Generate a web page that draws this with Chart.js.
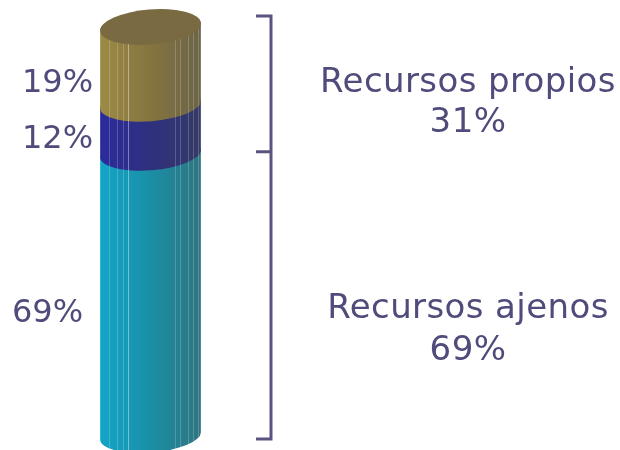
<!DOCTYPE html>
<html lang="es">
<head>
<meta charset="utf-8">
<title>Recursos</title>
<script src="https://cdn.jsdelivr.net/npm/chart.js@4"></script>
<style>
    html, body { margin: 0; padding: 0; background: #fff; }
    canvas { display: block; }
</style>
</head>
<body>
<canvas id="chart" width="620" height="450"></canvas>
<script>
// values, bottom to top
const categories = ['Pasivo'];
const segmentNames = ['Ajenos', 'Propios B', 'Propios A'];
const segmentValues = [69, 12, 19];
const segmentLabels = ['69%', '12%', '19%'];
const groupLabels = [['Recursos ajenos', '69%'], ['Recursos propios', '31%']];
const bracketStops = [0, 69, 100];

const segmentColors = [
    ['#12a6c8', '#1a8fa6', '#2f7480'],
    ['#2b2b9c', '#30307f', '#343a66'],
    ['#9c8b45', '#85743f', '#6b6448']
];
const topColor = '#7a6a42';
const textColor = '#4f4b7a';
const bracketColor = '#5a5580';
const streaks = [0.09, 0.17, 0.23, 0.28, 0.74, 0.79, 0.87, 0.92, 0.97];

// the ends of the cylinder are tilted a little
const radiusY = 16.5;
const tilt = -0.08;

function cylinderPath(ctx, cx, rx, top, base) {
    ctx.beginPath();
    ctx.ellipse(cx, top, rx, radiusY, tilt, Math.PI, Math.PI * 2, false);
    ctx.ellipse(cx, base, rx, radiusY, tilt, 0, Math.PI, false);
    ctx.closePath();
}

function drawSegment(ctx, bar, colors) {
    const rx = bar.width / 2;
    const left = bar.x - rx;
    const gradient = ctx.createLinearGradient(left, 0, left + bar.width, 0);
    gradient.addColorStop(0, colors[0]);
    gradient.addColorStop(0.5, colors[1]);
    gradient.addColorStop(1, colors[2]);

    ctx.save();
    cylinderPath(ctx, bar.x, rx, bar.y, bar.base);
    ctx.fillStyle = gradient;
    ctx.fill();
    ctx.clip();
    ctx.lineWidth = 1;
    streaks.forEach((s, i) => {
        const x = Math.round(left + s * bar.width) + 0.5;
        ctx.strokeStyle = i === 3 ? 'rgba(255,255,255,0.4)' : 'rgba(255,255,255,0.2)';
        ctx.beginPath();
        ctx.moveTo(x, bar.y - radiusY - 5);
        ctx.lineTo(x, bar.base + radiusY + 5);
        ctx.stroke();
    });
    ctx.restore();
}

const cylinderPlugin = {
    id: 'cylinder',
    // the segments overlap downwards, so they are all painted together below
    beforeDatasetDraw() {
        return false;
    },
    afterDatasetsDraw(chart) {
        const ctx = chart.ctx;
        const yScale = chart.scales.y;
        const bars = chart.data.datasets.map((d, i) => chart.getDatasetMeta(i).data[0]);

        bars.forEach((bar, i) => drawSegment(ctx, bar, segmentColors[i]));

        // top face
        const last = bars[bars.length - 1];
        ctx.beginPath();
        ctx.ellipse(last.x, last.y, last.width / 2, radiusY + 1, tilt, 0, Math.PI * 2);
        ctx.fillStyle = topColor;
        ctx.fill();

        // bracket
        const yLow = yScale.getPixelForValue(bracketStops[0]) + 3;
        const yMid = yScale.getPixelForValue(bracketStops[1]) - 2;
        const yHigh = yScale.getPixelForValue(bracketStops[2]) - 11;
        ctx.strokeStyle = bracketColor;
        ctx.lineWidth = 3;
        ctx.beginPath();
        ctx.moveTo(256, yHigh);
        ctx.lineTo(271, yHigh);
        ctx.lineTo(271, yLow);
        ctx.lineTo(256, yLow);
        ctx.moveTo(256, yMid);
        ctx.lineTo(271, yMid);
        ctx.stroke();

        // labels
        ctx.fillStyle = textColor;
        ctx.textBaseline = 'middle';
        ctx.font = '32px "DejaVu Sans"';
        ctx.textAlign = 'left';
        ctx.fillText(segmentLabels[2], 22, 84);
        ctx.fillText(segmentLabels[1], 22, 140);
        ctx.fillText(segmentLabels[0], 12, 314);
        ctx.font = '34px "DejaVu Sans"';
        ctx.letterSpacing = '0.4px';
        ctx.textAlign = 'center';
        ctx.fillText(groupLabels[1][0], 468, 83);
        ctx.fillText(groupLabels[1][1], 468, 123);
        ctx.fillText(groupLabels[0][0], 468, 309);
        ctx.fillText(groupLabels[0][1], 468, 351);
        ctx.letterSpacing = '0px';
    }
};

new Chart(document.getElementById('chart'), {
    type: 'bar',
    data: {
        labels: categories,
        datasets: segmentValues.map((v, i) => ({
            label: segmentNames[i],
            data: [v],
            backgroundColor: segmentColors[i][1],
            barPercentage: 1,
            categoryPercentage: 1
        }))
    },
    options: {
        responsive: false,
        animation: false,
        layout: { padding: { left: 100, right: 419, top: 27, bottom: 14 } },
        scales: {
            x: { stacked: true, display: false },
            y: { stacked: true, display: false, min: 0, max: 100 }
        },
        plugins: {
            legend: { display: false },
            tooltip: { enabled: false }
        }
    },
    plugins: [cylinderPlugin]
});
</script>
</body>
</html>
